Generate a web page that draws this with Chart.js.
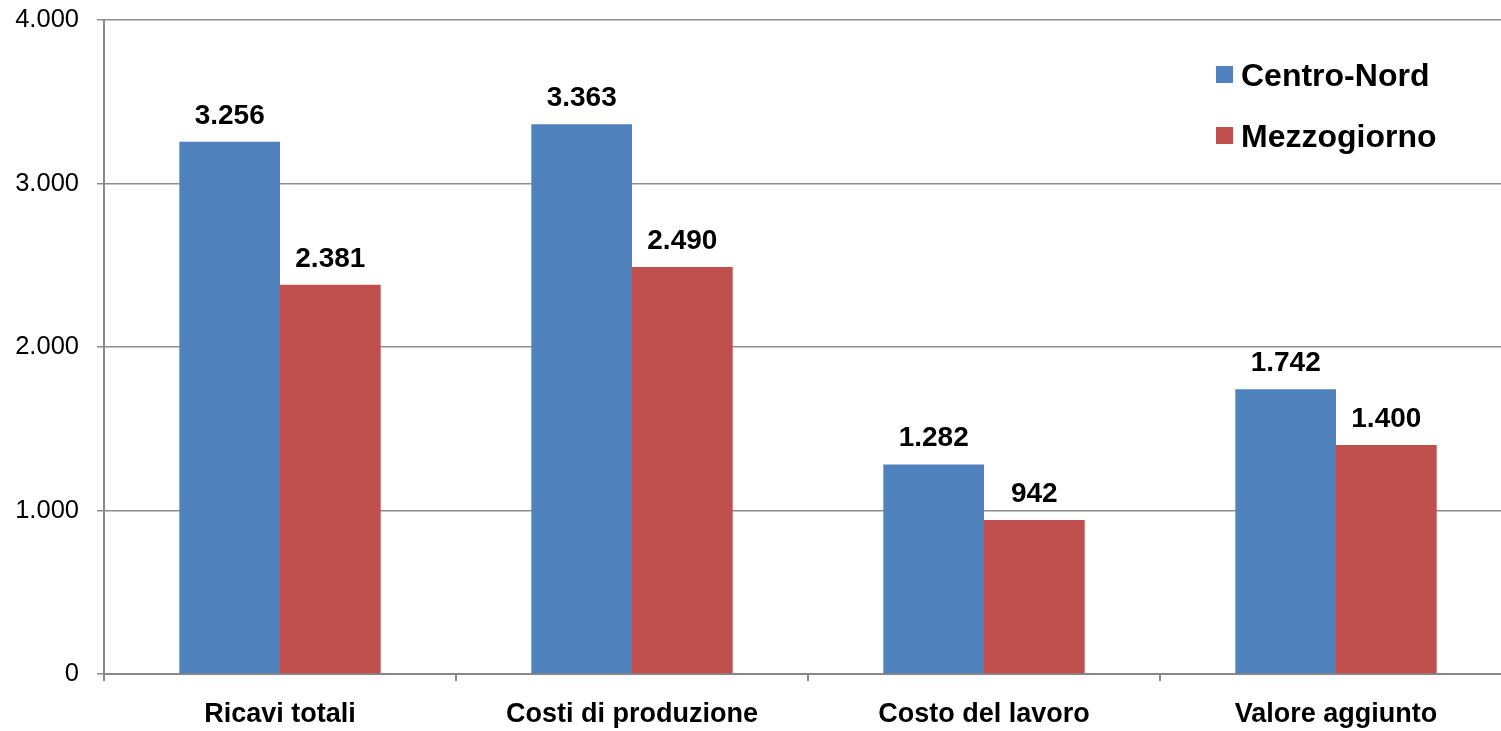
<!DOCTYPE html>
<html>
<head>
<meta charset="utf-8">
<script src="https://cdn.jsdelivr.net/npm/chart.js@4/dist/chart.umd.min.js"></script>
<style>
  html, body { margin: 0; padding: 0; background: #fff; overflow: hidden; }
  #wrap { width: 1512px; height: 731px; position: relative; }
</style>
</head>
<body>
<div id="wrap"><canvas id="chart"></canvas></div>
<script>
const categories = ["Ricavi totali", "Costi di produzione", "Costo del lavoro", "Valore aggiunto"];
const centroNord = [3256, 3363, 1282, 1742];
const mezzogiorno = [2381, 2490, 942, 1400];
const yTicks = [0, 1000, 2000, 3000, 4000];

const fontFamily = "'Liberation Sans', Arial, sans-serif";

function fmt(v) {
  return String(v).replace(/\B(?=(\d{3})+(?!\d))/g, ".");
}

// value labels above each bar
const valueLabels = {
  id: "valueLabels",
  afterDatasetsDraw(chart) {
    const ctx = chart.ctx;
    ctx.save();
    ctx.font = "bold 28px " + fontFamily;
    ctx.fillStyle = "#000";
    ctx.textAlign = "center";
    ctx.textBaseline = "alphabetic";
    chart.data.datasets.forEach((ds, i) => {
      chart.getDatasetMeta(i).data.forEach((bar, j) => {
        ctx.fillText(fmt(ds.data[j]), bar.x, bar.y - 18);
      });
    });
    ctx.restore();
  },
};

// legend drawn inside the plot, top right
const insideLegend = {
  id: "insideLegend",
  afterDraw(chart) {
    const ctx = chart.ctx;
    const area = chart.chartArea;
    const x = area.right - 296;
    let y = area.top + 46;
    ctx.save();
    ctx.font = "bold 32px " + fontFamily;
    ctx.textAlign = "left";
    ctx.textBaseline = "alphabetic";
    chart.data.datasets.forEach((ds) => {
      ctx.fillStyle = ds.backgroundColor;
      ctx.fillRect(x, y, 17, 17);
      ctx.fillStyle = "#000";
      ctx.fillText(ds.label, x + 25, y + 20);
      y += 61;
    });
    ctx.restore();
  },
};

const data = {
  labels: categories,
  datasets: [
    {
      label: "Centro-Nord",
      data: centroNord,
      backgroundColor: "#4F81BD",
      categoryPercentage: 0.572,
      barPercentage: 1.0,
    },
    {
      label: "Mezzogiorno",
      data: mezzogiorno,
      backgroundColor: "#C0504D",
      categoryPercentage: 0.572,
      barPercentage: 1.0,
    },
  ],
};

const config = {
  type: "bar",
  data: data,
  options: {
    responsive: true,
    maintainAspectRatio: false,
    animation: false,
    layout: {
      padding: { top: 20, right: 0, bottom: 0, left: 0 },
    },
    scales: {
      x: {
        grid: {
          drawOnChartArea: false,
          drawTicks: true,
          tickLength: 7,
          color: "#888",
          lineWidth: 2,
        },
        border: { color: "#888", width: 2 },
        ticks: {
          color: "#000",
          padding: 17,
          font: { family: fontFamily, size: 27, weight: "bold" },
        },
        afterFit(scale) {
          scale.height = 57;
          scale.paddingLeft = 0;
          scale.paddingRight = 0;
        },
      },
      y: {
        min: 0,
        max: 4000,
        afterBuildTicks(scale) {
          scale.ticks = yTicks.map((v) => ({ value: v }));
        },
        grid: {
          color: "#8c8c8c",
          lineWidth: 1.5,
          tickLength: 7,
        },
        border: { color: "#888", width: 2 },
        ticks: {
          color: "#000",
          padding: 18,
          font: { family: fontFamily, size: 25.5 },
          callback: (v) => fmt(v),
        },
        afterFit(scale) {
          scale.width = 104;
          scale.paddingTop = 0;
          scale.paddingBottom = 0;
        },
      },
    },
    plugins: {
      legend: { display: false },
      tooltip: { enabled: false },
    },
  },
  plugins: [valueLabels, insideLegend],
};

new Chart(document.getElementById("chart"), config);
</script>
</body>
</html>
